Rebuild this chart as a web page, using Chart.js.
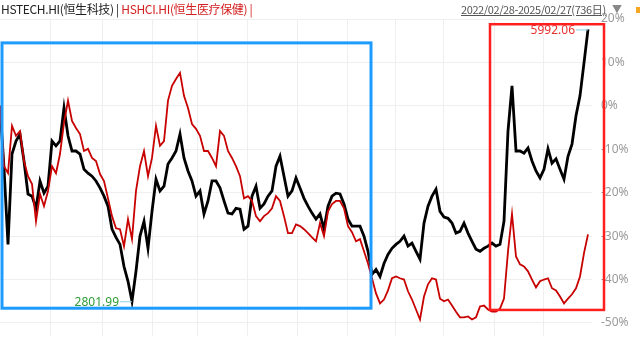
<!DOCTYPE html>
<html>
<head>
<meta charset="utf-8">
<script src="https://cdn.jsdelivr.net/npm/chart.js@4/dist/chart.umd.min.js"></script>
<style>
  html, body { margin: 0; padding: 0; background: #fff; }
  #wrap { position: relative; width: 640px; height: 337px; overflow: hidden;
          font-family: "Noto Sans CJK SC", "Noto Sans", sans-serif; }
  #macro { position: absolute; left: 0; top: 0; }
  .title { position: absolute; left: 1px; top: 0; font-size: 12px; line-height: 17px; white-space: nowrap;
           letter-spacing: -0.35px; }
  .range { position: absolute; left: 461px; top: 1px; font-size: 11px; line-height: 16px; color: #555;
           text-decoration: underline; white-space: nowrap; letter-spacing: -0.4px; }
  .arrow { position: absolute; left: 612px; top: 1px; font-size: 10px; line-height: 15px; color: #888; }
  .dot { position: absolute; left: 636px; top: 7px; width: 5px; height: 6px; background: #f5a623; }
</style>
</head>
<body>
<div id="wrap">
  <canvas id="macro" width="640" height="337"></canvas>
  <div class="title"><span style="color:#222">HSTECH.HI(恒生科技) | </span><span style="color:#d42020">HSHCI.HI(恒生医疗保健) |</span></div>
  <div class="range">2022/02/28-2025/02/27(736日)</div>
  <div class="arrow">▼</div>
  <div class="dot"></div>
</div>
<script>
// ------------------------------
// DATA (% change since 2022/02/28)
// ------------------------------

// HSTECH.HI
const hstech = [
  0, -14.3, -31.9, -11.1, -8.1, -6.5, -12.7, -20.3, -20.8, -23.6,
  -17.3, -20.1, -18.5, -8.1, -9.2, -8.1, -0.5, -6.9, -10.4, -10.4,
  -11.1, -14.6, -15.5, -16.2, -17.3, -18.9, -20.8, -23.1, -28.4, -30.3,
  -31.9, -37.0, -40.4, -45.0, -38.1, -30.0, -26.6, -32.8, -24.3, -16.9,
  -19.6, -18.5, -13.4, -12.0, -10.4, -6.5, -12.0, -15.0, -17.3, -20.8,
  -19.6, -24.9, -21.9, -17.3, -17.3, -18.9, -21.9, -24.7, -24.9, -23.6,
  -23.8, -28.4, -27.7, -20.8, -18.5, -23.6, -22.6, -20.8, -19.6, -13.9,
  -11.6, -16.2, -20.8, -19.6, -16.6, -18.9, -21.3, -23.1, -24.7, -26.1,
  -24.9, -28.4, -23.1, -20.8, -20.1, -20.3, -22.6, -26.1, -27.7, -27.7,
  -27.7, -30.0, -33.5, -38.8, -37.7, -39.3, -36.3, -34.2, -32.8, -31.9,
  -31.2, -30.0, -32.3, -31.6, -33.5, -35.3, -27.0, -23.1, -20.8, -19.2,
  -24.3, -25.6, -25.9, -27.0, -29.3, -28.9, -27.0, -29.3, -31.2, -33.0,
  -33.5, -32.8, -32.3, -31.6, -32.3, -31.9, -26.6, -5.8, 4.6, -10.4,
  -10.4, -10.9, -9.7, -12.7, -15.0, -16.6, -14.6, -9.9, -13.2, -12.2,
  -14.6, -16.9, -11.6, -8.8, -2.3, 2.3, 9.9, 17.6
];

// HSHCI.HI
const hshci = [
  0, -13.9, -15.5, -4.6, -6.9, -5.8, -12.7, -16.2, -18.0, -26.6,
  -20.3, -23.1, -19.6, -13.9, -15.5, -11.1, -3.9, 1.2, -3.5, -5.1,
  -6.5, -10.4, -9.9, -12.0, -12.7, -15.7, -17.3, -21.3, -25.4, -28.2,
  -28.4, -32.3, -26.1, -30.7, -19.6, -13.9, -10.4, -16.2, -12.0, -4.6,
  -9.2, -8.1, 1.2, 4.6, 6.2, 7.6, 2.3, -0.5, -4.2, -5.3,
  -6.9, -10.4, -10.4, -12.0, -13.9, -5.8, -6.9, -10.4, -12.0, -13.9,
  -16.2, -21.3, -20.8, -21.9, -25.4, -26.6, -25.4, -24.7, -23.6, -20.8,
  -21.9, -25.4, -29.3, -29.3, -27.3, -27.7, -28.4, -29.3, -30.3, -31.2,
  -27.0, -30.0, -24.3, -22.6, -21.9, -21.9, -23.6, -27.7, -29.1, -31.2,
  -30.7, -33.5, -36.3, -39.7, -43.2, -45.5, -44.6, -42.5, -39.7, -39.3,
  -39.7, -40.0, -42.7, -44.6, -46.9, -49.2, -43.9, -41.1, -39.7, -40.0,
  -44.4, -45.0, -44.6, -46.0, -47.4, -48.7, -48.7, -48.5, -49.2, -48.7,
  -46.2, -46.0, -46.9, -47.4, -47.4, -46.7, -44.4, -33.5, -24.9, -34.7,
  -36.5, -37.0, -38.1, -40.0, -41.8, -40.4, -40.0, -39.7, -42.0, -42.5,
  -43.9, -45.5, -44.4, -43.4, -42.0, -39.3, -33.9, -29.6
];

const yTicks = [20, 10, 0, -10, -20, -30, -40, -50];
// quarter boundaries, in sample index units
const quarterTicks = [12.5, 25.5, 38, 49.25, 61.75, 74.25, 86.75, 98.75, 110.75, 123.5, 135.75];

const hstechLow = "2801.99";
const hstechHigh = "5992.06";

// highlight boxes: [xFrom, xTo, yTop, yBottom] in data units
const blueBox = [0.5, 92.75, 14.5, -46.6];
const redBox = [122.5, 151, 18.8, -47.0];

// ------------------------------
// HELPERS
// ------------------------------

function toPoints(series) {
  return series.map((v, i) => ({ x: i, y: v }));
}

function noPadding(scale) {
  scale.paddingTop = 0;
  scale.paddingBottom = 0;
  scale.paddingLeft = 0;
  scale.paddingRight = 0;
}

function strokeBox(ctx, xs, ys, box, color, width) {
  const x1 = xs.getPixelForValue(box[0]);
  const x2 = xs.getPixelForValue(box[1]);
  const y1 = ys.getPixelForValue(box[2]);
  const y2 = ys.getPixelForValue(box[3]);
  ctx.strokeStyle = color;
  ctx.lineWidth = width;
  ctx.strokeRect(x1, y1, x2 - x1, y2 - y1);
}

function markValue(ctx, xs, ys, idx, value, text, color) {
  const px = xs.getPixelForValue(idx);
  const py = ys.getPixelForValue(value);
  ctx.strokeStyle = "#8fd0e8";
  ctx.lineWidth = 1;
  ctx.beginPath();
  ctx.moveTo(px - 12, py + 0.5);
  ctx.lineTo(px, py + 0.5);
  ctx.stroke();
  ctx.fillStyle = color;
  ctx.font = '12px "Noto Sans", sans-serif';
  ctx.textAlign = "right";
  ctx.textBaseline = "middle";
  ctx.fillText(text, px - 13, py + 1);
}

const overlayPlugin = {
  id: "overlay",
  afterDatasetsDraw(chart) {
    const { ctx, scales } = chart;
    const xs = scales.x;
    const ys = scales.y;
    ctx.save();
    strokeBox(ctx, xs, ys, blueBox, "#1e9bff", 3);
    strokeBox(ctx, xs, ys, redBox, "#ff1f1f", 2.5);

    const lowIdx = hstech.indexOf(Math.min(...hstech));
    markValue(ctx, xs, ys, lowIdx, hstech[lowIdx], hstechLow, "#2e9b36");
    const last = hstech.length - 1;
    markValue(ctx, xs, ys, last, hstech[last], hstechHigh, "#e8302e");
    ctx.restore();
  }
};

// ------------------------------
// RENDER
// ------------------------------

new Chart(document.getElementById("macro").getContext("2d"), {
  type: "line",
  data: {
    datasets: [
      {
        label: "HSHCI.HI",
        data: toPoints(hshci),
        borderColor: "#c80000",
        borderWidth: 1.8,
        pointRadius: 0,
        tension: 0
      },
      {
        label: "HSTECH.HI",
        data: toPoints(hstech),
        borderColor: "#000000",
        borderWidth: 2.8,
        pointRadius: 0,
        tension: 0
      }
    ]
  },
  options: {
    responsive: false,
    animation: false,
    layout: { padding: { top: 19, bottom: 1, left: 0, right: 0 } },
    plugins: {
      legend: { display: false },
      tooltip: { enabled: false }
    },
    scales: {
      x: {
        type: "linear",
        min: 0,
        max: 148,
        afterBuildTicks(scale) {
          scale.ticks = quarterTicks.map((v) => ({ value: v }));
        },
        afterFit(scale) {
          scale.height = 0;
          noPadding(scale);
        },
        ticks: { display: false },
        border: { display: false },
        grid: { color: "#efefef", drawTicks: false }
      },
      y: {
        position: "right",
        min: -53,
        max: 20,
        afterBuildTicks(scale) {
          scale.ticks = yTicks.map((v) => ({ value: v }));
        },
        afterFit(scale) {
          scale.width = 48;
          noPadding(scale);
        },
        ticks: {
          color: "#9a9a9a",
          padding: 9,
          font: { family: '"Noto Sans", sans-serif', size: 12 },
          callback(value) {
            return `${value}%`;
          }
        },
        border: { display: false },
        grid: { color: "#efefef", drawTicks: false }
      }
    }
  },
  plugins: [overlayPlugin]
});
</script>
</body>
</html>
